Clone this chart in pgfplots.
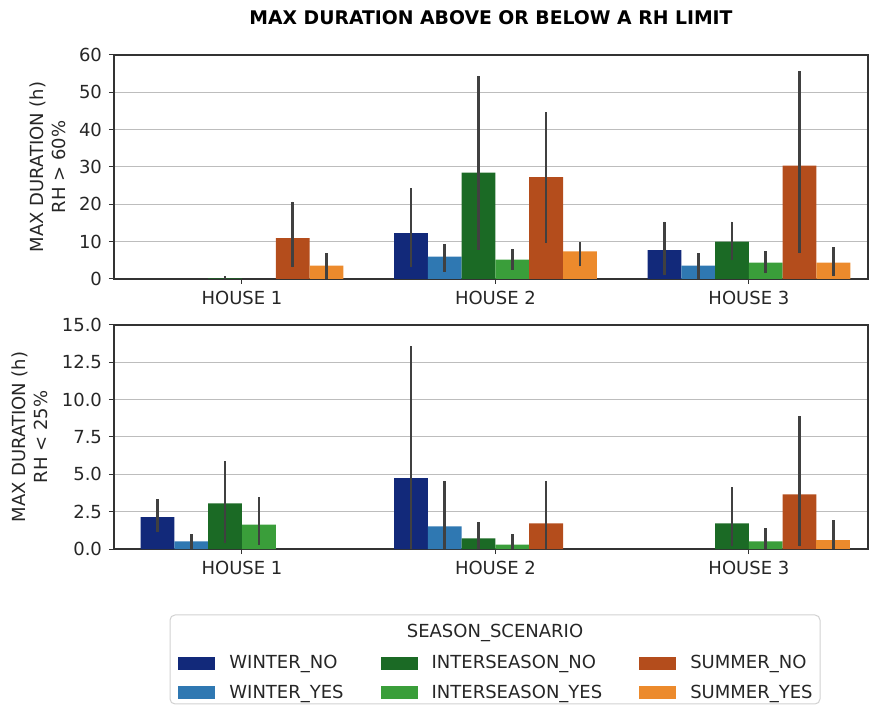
\documentclass[border=0pt]{standalone}
\usepackage{pgfplots}
\pgfplotsset{compat=1.18}
\usepackage{pgfplotstable}
\usepackage{fontspec}
\setmainfont{DejaVu Sans}

\definecolor{cWN}{HTML}{12297A}
\definecolor{cWY}{HTML}{2F78B2}
\definecolor{cIN}{HTML}{1B6A25}
\definecolor{cIY}{HTML}{3A9E3A}
\definecolor{cSN}{HTML}{B44D1C}
\definecolor{cSY}{HTML}{EC8A2C}
\definecolor{errc}{HTML}{404040}
\definecolor{spine}{HTML}{333333}
\definecolor{gridc}{HTML}{BDBDBD}

% ---------- RH > 60% ----------
\pgfplotstableread{
x y ep em
1 12.3 12.0 9.2
2 7.7 7.7 6.6
}\AWN
\pgfplotstableread{
x y ep em
1 6.0 3.3 4.0
2 3.6 3.3 3.6
}\AWY
\pgfplotstableread{
x y ep em
0 0.15 0.65 0.15
1 28.5 25.9 20.7
2 10.0 5.4 5.0
}\AIN
\pgfplotstableread{
x y ep em
1 5.2 2.9 2.7
2 4.4 3.0 2.8
}\AIY
\pgfplotstableread{
x y ep em
0 10.95 9.75 7.85
1 27.3 17.3 17.7
2 30.4 25.2 23.5
}\ASN
\pgfplotstableread{
x y ep em
0 3.6 3.3 3.6
1 7.4 2.5 4.0
2 4.4 4.1 3.7
}\ASY

% ---------- RH < 25% ----------
\pgfplotstableread{
x y ep em
0 2.14 1.20 1.03
1 4.75 8.85 4.75
}\BWN
\pgfplotstableread{
x y ep em
0 0.51 0.49 0.51
1 1.51 3.06 1.51
}\BWY
\pgfplotstableread{
x y ep em
0 3.05 2.81 2.65
1 0.71 1.10 0.71
2 1.71 2.44 1.54
}\BIN
\pgfplotstableread{
x y ep em
0 1.63 1.82 1.34
1 0.29 0.71 0.29
2 0.51 0.87 0.51
}\BIY
\pgfplotstableread{
x y ep em
1 1.71 2.86 1.71
2 3.65 5.27 3.48
}\BSN
\pgfplotstableread{
x y ep em
2 0.62 1.29 0.62
}\BSY

\pgfplotsset{
  base/.style={
    scale only axis,
    width=377pt, height=112pt,
    anchor=south west,
    xmin=-0.505, xmax=2.47,
    ymin=0,
    xtick={0,1,2},
    xticklabels={HOUSE 1,HOUSE 2,HOUSE 3},
    tick align=outside,
    xtick pos=bottom, ytick pos=left,
    major tick length=2.5pt,
    tick style={color=spine, line width=0.5pt},
    axis line style={color=spine, line width=0.6pt},
    ymajorgrids,
    grid style={color=gridc, line width=0.5pt},
    ticklabel style={font=\fontsize{9}{10}\selectfont, text=black!85},
    label style={font=\fontsize{9}{11}\selectfont, text=black!85},
    ylabel style={align=center},
    /pgf/number format/assume math mode=true,
    ybar, bar width=0.1333,
    error bars/y dir=both, error bars/y explicit,
    error bars/error mark=none,
    error bars/error bar style={color=errc, line width=1.35pt},
  },
  bs/.style={fill=#1, draw=none},
}

\begin{document}
\begin{tikzpicture}
\path[use as bounding box] (0,0) rectangle (436pt,353pt);

\node[font=\bfseries\fontsize{9.4}{11}\selectfont] at (245.5pt,344.2pt) {MAX DURATION ABOVE OR BELOW A RH LIMIT};

\begin{axis}[base, at={(57pt,213.5pt)},
  ymax=60, ytick={0,10,20,30,40,50,60},
  ylabel={MAX DURATION (h)\\RH > 60\%}]
\addplot[bs=cWN, bar shift=-0.3333] table[x=x,y=y,y error plus=ep,y error minus=em]{\AWN};
\addplot[bs=cWY, bar shift=-0.2] table[x=x,y=y,y error plus=ep,y error minus=em]{\AWY};
\addplot[bs=cIN, bar shift=-0.0667] table[x=x,y=y,y error plus=ep,y error minus=em]{\AIN};
\addplot[bs=cIY, bar shift=0.0667] table[x=x,y=y,y error plus=ep,y error minus=em]{\AIY};
\addplot[bs=cSN, bar shift=0.2] table[x=x,y=y,y error plus=ep,y error minus=em]{\ASN};
\addplot[bs=cSY, bar shift=0.3333] table[x=x,y=y,y error plus=ep,y error minus=em]{\ASY};
\end{axis}

\begin{axis}[base, at={(57pt,78.5pt)},
  ymax=15, ytick={0,2.5,5,7.5,10,12.5,15},
  yticklabel style={/pgf/number format/.cd, fixed, fixed zerofill, precision=1},
  ylabel={MAX DURATION (h)\\RH < 25\%},
  legend columns=3,
  legend cell align=left,
  legend image code/.code={\fill[#1, draw=none] (0pt,-3.3pt) rectangle (18.5pt,3.3pt);},
  legend style={draw=none, fill=none, inner sep=0pt,
    at={(0.0849,-0.473)}, anchor=north west,
    font=\fontsize{9}{10}\selectfont,
    row sep=6.5pt,
    nodes={inner sep=0pt, text=black!85},
    /tikz/every odd column/.append style={column sep=7pt},
    /tikz/every even column/.append style={column sep=18.5pt}},
  ]
\addplot[bs=cWN, bar shift=-0.3333, forget plot] table[x=x,y=y,y error plus=ep,y error minus=em]{\BWN};
\addplot[bs=cWY, bar shift=-0.2, forget plot] table[x=x,y=y,y error plus=ep,y error minus=em]{\BWY};
\addplot[bs=cIN, bar shift=-0.0667, forget plot] table[x=x,y=y,y error plus=ep,y error minus=em]{\BIN};
\addplot[bs=cIY, bar shift=0.0667, forget plot] table[x=x,y=y,y error plus=ep,y error minus=em]{\BIY};
\addplot[bs=cSN, bar shift=0.2, forget plot] table[x=x,y=y,y error plus=ep,y error minus=em]{\BSN};
\addplot[bs=cSY, bar shift=0.3333, forget plot] table[x=x,y=y,y error plus=ep,y error minus=em]{\BSY};
\addlegendimage{fill=cWN, draw=none}\addlegendentry{WINTER\_NO}
\addlegendimage{fill=cIN, draw=none}\addlegendentry{INTERSEASON\_NO}
\addlegendimage{fill=cSN, draw=none}\addlegendentry{SUMMER\_NO}
\addlegendimage{fill=cWY, draw=none}\addlegendentry{WINTER\_YES}
\addlegendimage{fill=cIY, draw=none}\addlegendentry{INTERSEASON\_YES}
\addlegendimage{fill=cSY, draw=none}\addlegendentry{SUMMER\_YES}
\end{axis}

\draw[color=black!18, line width=0.5pt, rounded corners=2.5pt] (85pt,1.0pt) rectangle (410pt,45.5pt);
\node[font=\fontsize{9}{10}\selectfont, text=black!85] at (247.5pt,36.5pt) {SEASON\_SCENARIO};
\end{tikzpicture}
\end{document}
